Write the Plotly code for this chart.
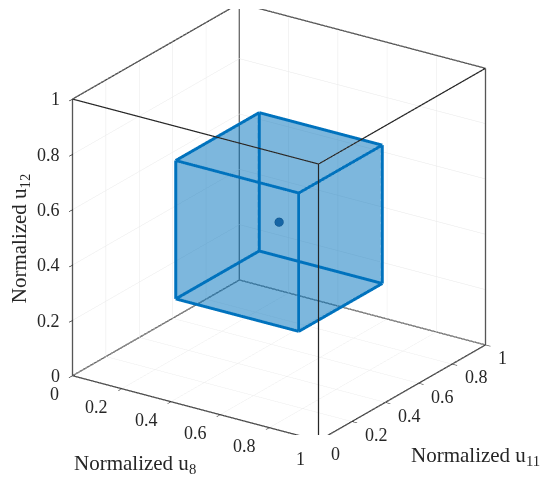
import plotly.graph_objects as go

# axis setup
axis_range = [0, 1]
tick_vals = [0, 0.2, 0.4, 0.6, 0.8, 1]
tick_text = ["0", "0.2", "0.4", "0.6", "0.8", "1"]
x_title = "Normalized u<sub>8</sub>"
y_title = "Normalized u<sub>11</sub>"
z_title = "Normalized u<sub>12</sub>"

# the cube (lower / upper bound on each of the three normalized inputs)
cube_lo = [0.25, 0.25, 0.25]
cube_hi = [0.75, 0.75, 0.75]
# nominal point
point = [0.5, 0.5, 0.5]

blue = "#0072BD"
dark = "#262626"
font_name = "Liberation Serif"


def corners(lo, hi):
    pts = []
    for k in range(8):
        pts.append([hi[0] if k & 1 else lo[0],
                    hi[1] if k & 2 else lo[1],
                    hi[2] if k & 4 else lo[2]])
    return pts


def edge_lines(lo, hi):
    pts = corners(lo, hi)
    xs, ys, zs = [], [], []
    for a in range(8):
        for b in range(a + 1, 8):
            d = a ^ b
            if d in (1, 2, 4):
                xs += [pts[a][0], pts[b][0], None]
                ys += [pts[a][1], pts[b][1], None]
                zs += [pts[a][2], pts[b][2], None]
    return xs, ys, zs


fig = go.Figure()

# faces of the cube
cp = corners(cube_lo, cube_hi)
faces = [(0, 1, 3), (0, 3, 2), (4, 5, 7), (4, 7, 6),
         (0, 1, 5), (0, 5, 4), (2, 3, 7), (2, 7, 6),
         (0, 2, 6), (0, 6, 4), (1, 3, 7), (1, 7, 5)]
fig.add_trace(go.Mesh3d(
    x=[p[0] for p in cp], y=[p[1] for p in cp], z=[p[2] for p in cp],
    i=[f[0] for f in faces], j=[f[1] for f in faces], k=[f[2] for f in faces],
    color=blue, opacity=0.3, flatshading=True,
    lighting=dict(ambient=1, diffuse=0, specular=0, roughness=1, fresnel=0),
    hoverinfo="skip", showscale=False))

# cube edges
ex, ey, ez = edge_lines(cube_lo, cube_hi)
fig.add_trace(go.Scatter3d(x=ex, y=ey, z=ez, mode="lines",
                           line=dict(color=blue, width=6), hoverinfo="skip"))

# axes box (MATLAB "box on")
lo_b = [axis_range[0]] * 3
hi_b = [axis_range[1]] * 3
bx, by, bz = edge_lines(lo_b, hi_b)
fig.add_trace(go.Scatter3d(x=bx, y=by, z=bz, mode="lines",
                           line=dict(color=dark, width=2.5), hoverinfo="skip"))

# centre point
fig.add_trace(go.Scatter3d(x=[point[0]], y=[point[1]], z=[point[2]], mode="markers",
                           marker=dict(size=5, color="#1f5f9a",
                                       line=dict(color="#0b3d6b", width=1)),
                           hoverinfo="skip"))

ax = dict(range=axis_range, tickvals=tick_vals, ticktext=tick_text,
          showticklabels=False,
          showbackground=False, gridcolor="#e8e8e8", gridwidth=1,
          zeroline=False, showline=False, showspikes=False,
          ticks="outside", ticklen=6, tickwidth=1.5, tickcolor=dark,
          title=dict(text=""), autorange=False)

# upright tick labels, like MATLAB draws them
tick_font = dict(family=font_name, size=18, color=dark)
scene_ann = []
for v, t in zip(tick_vals, tick_text):
    scene_ann.append(dict(x=v, y=axis_range[0], z=axis_range[0], text=t,
                          showarrow=False, xanchor="right", yanchor="middle",
                          xshift=-11, yshift=-18, font=tick_font))
    scene_ann.append(dict(x=axis_range[1], y=v, z=axis_range[0], text=t,
                          showarrow=False, xanchor="left", yanchor="middle",
                          xshift=11, yshift=-13, font=tick_font))
    scene_ann.append(dict(x=axis_range[0], y=axis_range[0], z=v, text=t,
                          showarrow=False, xanchor="right", yanchor="middle",
                          xshift=-10, yshift=0, font=tick_font))

title_font = dict(size=21, family=font_name, color=dark)
fig.update_layout(
    width=550, height=479,
    margin=dict(l=0, r=0, t=0, b=0),
    paper_bgcolor="white",
    showlegend=False,
    font=dict(family=font_name, color=dark),
    scene=dict(
        domain=dict(x=[0.005, 0.979], y=[0.108, 0.997]),
        xaxis=ax, yaxis=ax, zaxis=ax,
        aspectmode="manual", aspectratio=dict(x=1.396, y=1.396, z=1.41),
        camera=dict(projection=dict(type="orthographic"),
                    eye=dict(x=0.517 * 1.5, y=-0.762 * 1.5, z=0.389 * 1.5),
                    up=dict(x=0, y=0, z=1)),
        annotations=scene_ann,
    ),
    annotations=[
        dict(text=x_title, x=0.230, y=0.048, xref="paper", yref="paper",
             xanchor="center", yanchor="middle",
             showarrow=False, font=title_font),
        dict(text=y_title, x=0.850, y=0.0646, xref="paper", yref="paper",
             xanchor="center", yanchor="middle",
             showarrow=False, font=title_font),
        dict(text=z_title, x=0.022, y=0.5195, xref="paper", yref="paper",
             xanchor="center", yanchor="middle",
             showarrow=False, textangle=-90, font=title_font),
    ],
)

fig.write_html("out.html")
